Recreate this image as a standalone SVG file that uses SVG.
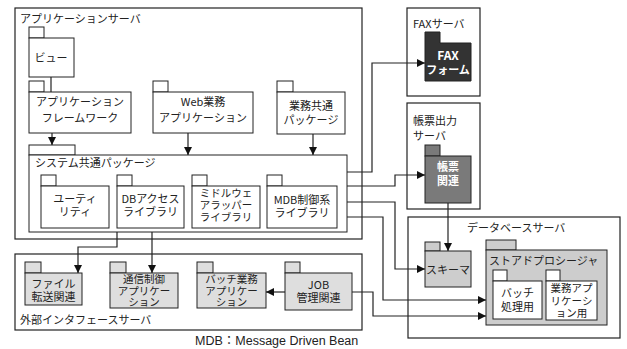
<svg xmlns="http://www.w3.org/2000/svg" width="627" height="349" viewBox="0 0 627 349">
<defs>
<marker id="ah" viewBox="0 0 10 10" refX="10" refY="5" markerWidth="8" markerHeight="8" markerUnits="userSpaceOnUse" orient="auto">
<path d="M0,0 L10,5 L0,10 Z" fill="#111"/>
</marker>
</defs>
<style>
text{font-family:"Noto Sans CJK JP","Noto Sans",sans-serif;font-size:11px;fill:#222}
.c{text-anchor:middle}
.s{font-size:10.5px}
.w{fill:#fff;font-weight:bold}
.srv{fill:#fff;stroke:#222;stroke-width:1.2}
.pk{fill:#fff;stroke:#222;stroke-width:1}
.lg{fill:#dedede;stroke:#222;stroke-width:1}
.mg{fill:#cdcdcd;stroke:#222;stroke-width:1}
.dg{fill:#7a7a7a;stroke:#222;stroke-width:1}
.bk{fill:#333;stroke:#222;stroke-width:1}
.ln{fill:none;stroke:#222;stroke-width:1.2}
.ar{fill:none;stroke:#222;stroke-width:1.2;marker-end:url(#ah)}
</style>
<rect width="627" height="349" fill="#fff"/>

<g id="app-server">
<rect class="srv" x="15" y="8" width="347" height="231"/>
<text x="20" y="23">アプリケーションサーバ</text>
</g>

<g id="view">
<rect class="pk" x="29" y="27" width="15" height="11"/>
<rect class="pk" x="29" y="38" width="45" height="39"/>
<text class="c" x="51" y="62">ビュー</text>
</g>

<g id="framework">
<rect class="pk" x="29" y="81" width="15" height="11"/>
<rect class="pk" x="29" y="92" width="102" height="41"/>
<text class="c" x="80" y="106">アプリケーション</text>
<text class="c" x="80" y="122">フレームワーク</text>
</g>

<g id="web-app">
<rect class="pk" x="153" y="81" width="15" height="11"/>
<rect class="pk" x="153" y="92" width="100" height="41"/>
<text class="c" x="203" y="106">Web業務</text>
<text class="c" x="203" y="122">アプリケーション</text>
</g>

<g id="biz-common">
<rect class="pk" x="277" y="81" width="16" height="11"/>
<rect class="pk" x="277" y="92" width="68" height="42"/>
<text class="c" x="311" y="110">業務共通</text>
<text class="c" x="311" y="124">パッケージ</text>
</g>

<g id="sys-common">
<rect class="pk" x="29" y="145" width="46" height="10"/>
<rect class="pk" x="29" y="155" width="318" height="77"/>
<text x="35" y="167">システム共通パッケージ</text>
</g>

<g id="utility">
<rect class="pk" x="41" y="175" width="15" height="11"/>
<rect class="pk" x="41" y="186" width="68" height="42"/>
<text class="c" x="75" y="203">ユーティ</text>
<text class="c" x="75" y="216">リティ</text>
</g>

<g id="db-access">
<rect class="pk" x="117" y="175" width="15" height="11"/>
<rect class="pk" x="117" y="186" width="67" height="42"/>
<text class="c" x="150.5" y="203">DBアクセス</text>
<text class="c" x="150.5" y="216">ライブラリ</text>
</g>

<g id="mw-wrapper">
<rect class="pk" x="192" y="175" width="15" height="11"/>
<rect class="pk" x="192" y="186" width="68" height="42"/>
<text class="c s" x="226" y="197">ミドルウェ</text>
<text class="c s" x="226" y="209">アラッパー</text>
<text class="c s" x="226" y="221">ライブラリ</text>
</g>

<g id="mdb-lib">
<rect class="pk" x="267" y="175" width="15" height="11"/>
<rect class="pk" x="267" y="186" width="70" height="42"/>
<text class="c" x="302" y="204">MDB制御系</text>
<text class="c" x="302" y="217">ライブラリ</text>
</g>

<g id="fax-server">
<rect class="srv" x="407" y="8" width="73" height="88"/>
<text x="413" y="28">FAXサーバ</text>
</g>

<g id="fax-form">
<path class="bk" d="M425,32 H440 V43 H471 V81 H425 Z"/>
<text class="c w" x="448" y="60" style="font-size:12px">FAX</text>
<text class="c w" x="448" y="74">フォーム</text>
</g>

<g id="report-server">
<rect class="srv" x="407" y="103" width="73" height="106"/>
<text x="413" y="125">帳票出力</text>
<text x="413" y="140">サーバ</text>
</g>

<g id="report">
<rect class="dg" x="425" y="145" width="15" height="11"/>
<rect class="dg" x="425" y="156" width="46" height="47"/>
<text class="c w" x="448" y="171">帳票</text>
<text class="c w" x="448" y="185">関連</text>
</g>

<g id="db-server">
<rect class="srv" x="408" y="217" width="212" height="121"/>
<text x="467" y="232">データベースサーバ</text>
</g>

<g id="schema">
<rect class="mg" x="425" y="242" width="15" height="9"/>
<rect class="mg" x="425" y="251" width="46" height="36"/>
<text class="c" x="448" y="274">スキーマ</text>
</g>

<g id="stored-proc">
<rect class="mg" x="486" y="240" width="30" height="10"/>
<rect class="mg" x="486" y="250" width="121" height="75"/>
<text x="489" y="265">ストアドプロシージャ</text>
</g>

<g id="batch-proc">
<rect class="pk" x="493" y="270" width="14" height="11"/>
<rect class="pk" x="493" y="281" width="49" height="38"/>
<text class="c" x="517.5" y="297">バッチ</text>
<text class="c" x="517.5" y="311">処理用</text>
</g>

<g id="biz-app-proc">
<rect class="pk" x="546" y="270" width="14" height="11"/>
<rect class="pk" x="546" y="281" width="51" height="39"/>
<text class="c s" x="571.5" y="292">業務アプ</text>
<text class="c s" x="571.5" y="304.5">リケーシ</text>
<text class="c s" x="571.5" y="317">ョン用</text>
</g>

<g id="ext-server">
<rect class="srv" x="15" y="254" width="347" height="76"/>
<text x="20" y="324">外部インタフェースサーバ</text>
</g>

<g id="file-transfer">
<rect class="lg" x="25" y="262" width="16" height="11"/>
<rect class="lg" x="25" y="273" width="57" height="32"/>
<text class="c" x="53.5" y="288">ファイル</text>
<text class="c" x="53.5" y="301">転送関連</text>
</g>

<g id="comm-ctrl">
<rect class="lg" x="110" y="262" width="16" height="11"/>
<rect class="lg" x="110" y="273" width="68" height="35"/>
<text class="c s" x="144" y="283">通信制御</text>
<text class="c s" x="144" y="294.5">アプリケー</text>
<text class="c s" x="144" y="306">ション</text>
</g>

<g id="batch-app">
<rect class="lg" x="197" y="262" width="16" height="11"/>
<rect class="lg" x="197" y="273" width="69" height="35"/>
<text class="c s" x="231.5" y="283">バッチ業務</text>
<text class="c s" x="231.5" y="294.5">アプリケー</text>
<text class="c s" x="231.5" y="306">ション</text>
</g>

<g id="job">
<rect class="lg" x="285" y="262" width="15" height="11"/>
<rect class="lg" x="285" y="273" width="67" height="37"/>
<text class="c" x="318.5" y="289">JOB</text>
<text class="c" x="318.5" y="302">管理関連</text>
</g>

<g id="connectors">
<path class="ln" d="M51,77 V92"/>
<path class="ar" d="M52,133 V145"/>
<path class="ar" d="M188,133 V155"/>
<path class="ar" d="M313,134 V155"/>
<path class="ar" d="M347,172 H372 V63 H425"/>
<path class="ar" d="M347,186 H395 V175 H425"/>
<path class="ar" d="M347,202 H395 V269 H425"/>
<path class="ar" d="M347,217 H383 V300 H486"/>
<path class="ar" d="M352,292 H373 V316 H486"/>
<path class="ar" d="M117,232 V247 H78 V273"/>
<path class="ar" d="M152,232 V273"/>
<path class="ar" d="M285,292 H266"/>
<path class="ar" d="M448,203 V251"/>
</g>

<text x="195" y="345" style="font-family:'Liberation Sans','Noto Sans CJK JP',sans-serif;font-size:12.5px">MDB：Message Driven Bean</text>
</svg>
